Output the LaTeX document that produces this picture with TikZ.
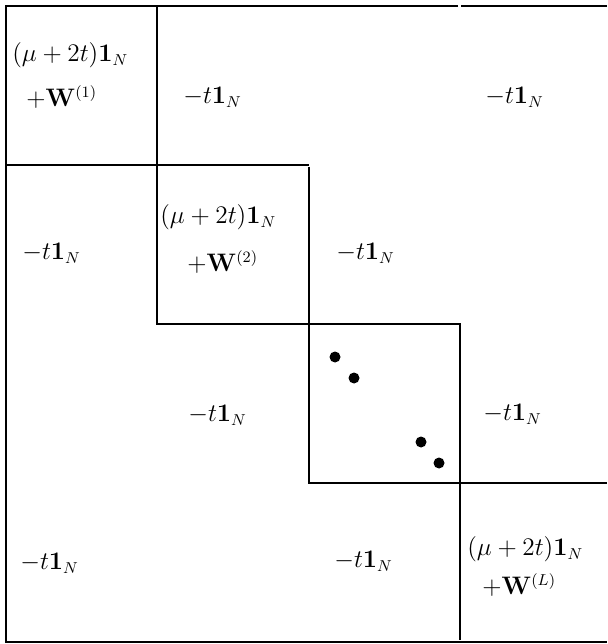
\documentclass[tikz,border=0pt]{standalone}
\usepackage{amsmath,amssymb}
\usepackage{tikz}
\usetikzlibrary{positioning}

\begin{document}
\begin{tikzpicture}[x=0.02cm,y=-0.02cm,
  blk/.style={line width=1.1pt,black},
  ent/.style={anchor=west,inner sep=0pt,font=\fontsize{13.5}{16}\selectfont}]
  \useasboundingbox (0,0) rectangle (607,644);
  % outer frame (no right side)
  \draw[blk] (607,6) -- (461,6);
  \draw[blk] (458,6) -- (6,6) -- (6,642) -- (607,642);
  % staircase of diagonal blocks
  \draw[blk] (157,6) -- (157,324) -- (460,324) -- (460,640);
  \draw[blk] (6,165) -- (309,165);
  \draw[blk] (309,167) -- (309,483) -- (607,483);
  % dots
  \foreach \px/\py in {335/357,354/378,421/442,439/463}
    \fill (\px,\py) circle (5.5);
  % row 1
  \node[ent] (d1a) at (12,55) {$(\mu+2t)\mathbf{1}_N$};
  \node[ent] (d1b) at (26,97) {$+\mathbf{W}^{(1)}$};
  \node[ent] (u12) at (183,97) {$-t\mathbf{1}_N$};
  \node[ent] (u14) at (485,97) {$-t\mathbf{1}_N$};
  % row 2
  \node[ent] (l21) at (22,253) {$-t\mathbf{1}_N$};
  \node[ent] (d2a) at (160,217) {$(\mu+2t)\mathbf{1}_N$};
  \node[ent] (d2b) at (187,262) {$+\mathbf{W}^{(2)}$};
  \node[ent] (u23) at (336,253) {$-t\mathbf{1}_N$};
  % row 3
  \node[ent] (l32) at (188,415) {$-t\mathbf{1}_N$};
  \node[ent] (u34) at (483,414) {$-t\mathbf{1}_N$};
  % row 4
  \node[ent] (l41) at (20,563) {$-t\mathbf{1}_N$};
  \node[ent] (l43) at (334,561) {$-t\mathbf{1}_N$};
  \node[ent] (dLa) at (467,549) {$(\mu+2t)\mathbf{1}_N$};
  \node[ent] (dLb) at (482,585) {$+\mathbf{W}^{(L)}$};
\end{tikzpicture}
\end{document}
